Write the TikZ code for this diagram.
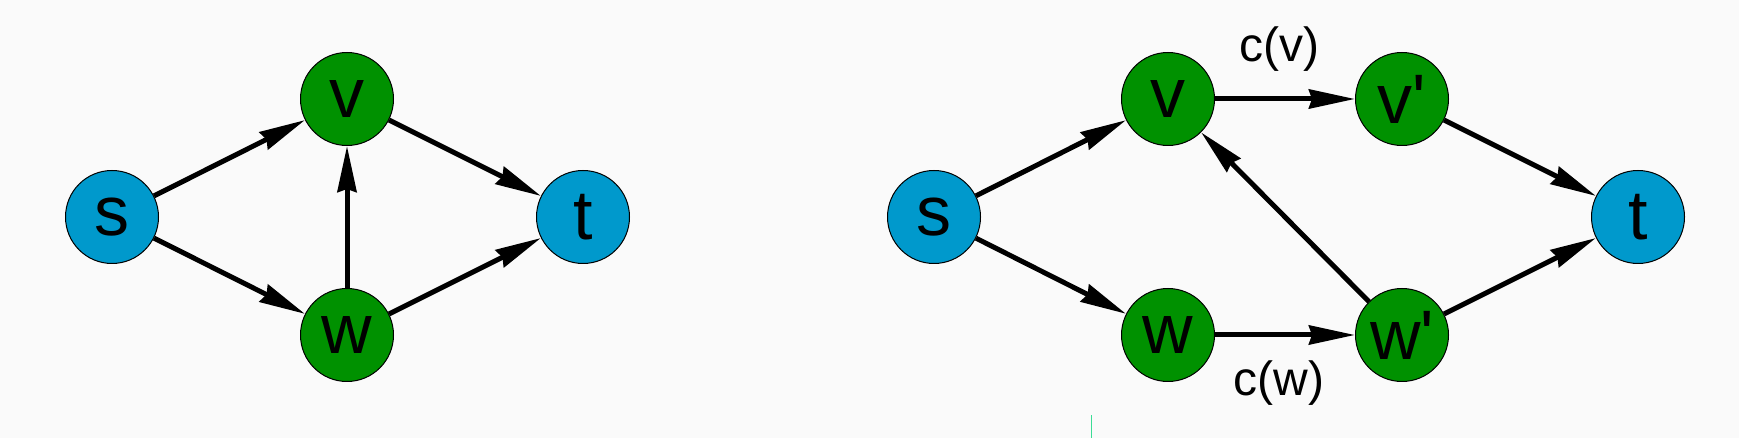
\documentclass[tikz,border=0pt]{standalone}
\usepackage{fontspec}
\setmainfont{Liberation Sans}
\usetikzlibrary{arrows.meta}
\definecolor{fondo}{RGB}{250,250,250}
\definecolor{azul}{RGB}{0,153,204}
\definecolor{verde}{RGB}{0,145,0}
\definecolor{marca}{RGB}{60,220,150}

\begin{document}
\begin{tikzpicture}[x=1pt, y=1pt,
		nodo/.style={circle, draw=black, line width=1pt, minimum size=93pt, inner sep=0pt, font=\fontsize{70}{70}\selectfont},
		fuente/.style={nodo, fill=azul},
		interno/.style={nodo, fill=verde},
		flecha/.style={line width=5pt, -{Stealth[length=46pt, width=19pt, inset=3pt]}},
		costo/.style={font=\fontsize{48}{48}\selectfont}]
		\fill[fondo] (0, 0) rectangle (1739, 438);
		\useasboundingbox (0, 0) rectangle (1739, 438);
		
		% Grafo original
		\node[fuente] (s1) at (112, 221) {s};
		\node[interno] (v1) at (347, 339) {v};
		\node[interno] (w1) at (347, 103) {w};
		\node[fuente] (t1) at (583, 221) {t};
		\draw[flecha] (s1) -- (v1);
		\draw[flecha] (s1) -- (w1);
		\draw[flecha] (w1) -- (v1);
		\draw[flecha] (v1) -- (t1);
		\draw[flecha] (w1) -- (t1);
		
		% Grafo con nodos divididos
		\node[fuente] (s2) at (934, 221) {s};
		\node[interno] (v2) at (1168, 339) {v};
		\node[interno] (vp) at (1402, 339) {v\textquotesingle};
		\node[interno] (w2) at (1168, 103) {w};
		\node[interno] (wp) at (1402, 103) {w\textquotesingle};
		\node[fuente] (t2) at (1638, 221) {t};
		\draw[flecha] (s2) -- (v2);
		\draw[flecha] (s2) -- (w2);
		\draw[flecha] (v2) -- (vp);
		\draw[flecha] (w2) -- (wp);
		\draw[flecha] (wp) -- (v2);
		\draw[flecha] (vp) -- (t2);
		\draw[flecha] (wp) -- (t2);
		
		% Costos
		\node[costo] (cv) at (1279, 389) {c(v)};
		\node[costo] (cw) at (1279, 55) {c(w)};
		
		% Marca
		\coordinate (m1) at (1091, 0);
		\coordinate (m2) at (1091, 23);
		\draw[marca, line width=1pt] (m1) -- (m2);
	\end{tikzpicture}
\end{document}
